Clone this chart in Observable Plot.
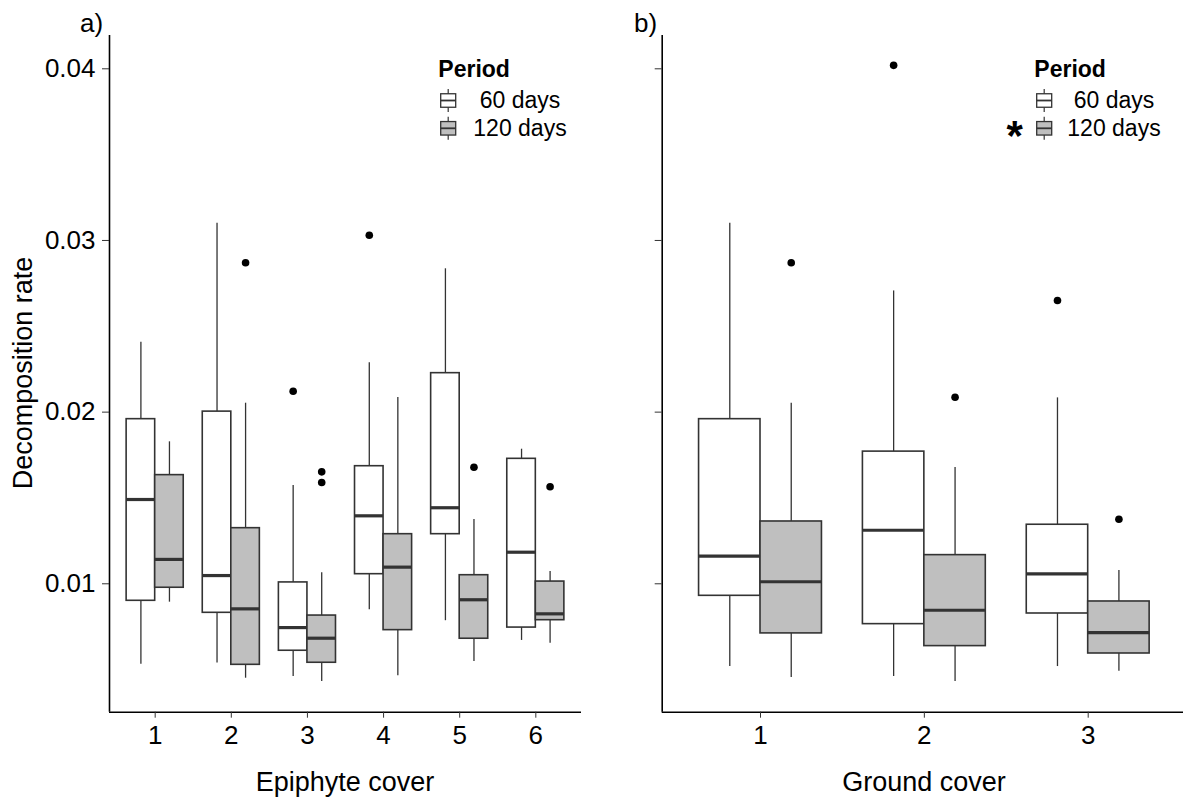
<!DOCTYPE html>
<html>
<head>
<meta charset="utf-8">
<script src="https://cdn.jsdelivr.net/npm/d3@7"></script>
<script src="https://cdn.jsdelivr.net/npm/@observablehq/plot@0.6"></script>
<style>
  html, body { margin: 0; padding: 0; background: #fff; overflow: hidden; }
  #fig { position: relative; width: 1183px; height: 801px; overflow: hidden;
         font-family: "Liberation Sans", Arial, sans-serif; }
  .panel { position: absolute; top: 0; }
  #overlay { position: absolute; left: 0; top: 0; pointer-events: none; }
  #overlay text { font-family: "Liberation Sans", Arial, sans-serif; }
</style>
</head>
<body>
<div id="fig"></div>
<script>
// Decomposition rate by cover class and incubation period.
// Box statistics: [lower whisker, Q1, median, Q3, upper whisker]
const periods = ["60 days", "120 days"];
const yTicks = [0.01, 0.02, 0.03, 0.04];

const epiphyteCover = [1, 2, 3, 4, 5, 6];
const epiphyte60 = [
  [0.00532, 0.00901, 0.01491, 0.01959, 0.02407],
  [0.00538, 0.00831, 0.01048, 0.02003, 0.03100],
  [0.00460, 0.00610, 0.00745, 0.01008, 0.01573],
  [0.00849, 0.01056, 0.01396, 0.01685, 0.02287],
  [0.00785, 0.01289, 0.01443, 0.02227, 0.02835],
  [0.00670, 0.00745, 0.01184, 0.01728, 0.01784]
];
const epiphyte120 = [
  [0.00893, 0.00977, 0.01142, 0.01633, 0.01827],
  [0.00450, 0.00528, 0.00854, 0.01324, 0.02052],
  [0.00431, 0.00540, 0.00683, 0.00815, 0.01064],
  [0.00464, 0.00730, 0.01097, 0.01289, 0.02085],
  [0.00547, 0.00680, 0.00907, 0.01050, 0.01374],
  [0.00654, 0.00788, 0.00825, 0.01013, 0.01072]
];
const epiphyteOut60 = [[], [], [0.02122], [0.03030], [], []];
const epiphyteOut120 = [[], [0.02870], [0.01652, 0.01590], [], [0.01679], [0.01565]];

const groundCover = [1, 2, 3];
const ground60 = [
  [0.00518, 0.00930, 0.01161, 0.01959, 0.03100],
  [0.00460, 0.00765, 0.01312, 0.01770, 0.02706],
  [0.00518, 0.00827, 0.01058, 0.01344, 0.02083]
];
const ground120 = [
  [0.00454, 0.00711, 0.01012, 0.01363, 0.02052],
  [0.00431, 0.00637, 0.00846, 0.01167, 0.01677],
  [0.00491, 0.00594, 0.00716, 0.00897, 0.01077]
];
const groundOut60 = [[], [0.04020], [0.02650]];
const groundOut120 = [[0.02870], [0.02087], [0.01376]];

const yDomain = [0.00252, 0.04194];
const dodge = 0.1875;         // half of the dodged box width (width 0.75 shared by 2 groups)
const boxFill = ["#ffffff", "#bfbfbf"];
const ink = "#333333";

function boxRows(cover, s60, s120) {
  const rows = [];
  cover.forEach((c, i) => {
    [s60[i], s120[i]].forEach((s, p) => {
      rows.push({cover: c, period: periods[p], off: p === 0 ? -dodge : dodge,
                 lo: s[0], q1: s[1], med: s[2], q3: s[3], hi: s[4]});
    });
  });
  return rows;
}
function outlierRows(cover, o60, o120) {
  const rows = [];
  cover.forEach((c, i) => {
    [o60[i], o120[i]].forEach((vals, p) => {
      vals.forEach(v => rows.push({cover: c, period: periods[p], off: p === 0 ? -dodge : dodge, value: v}));
    });
  });
  return rows;
}

function panel({cover, s60, s120, o60, o120, width, marginLeft, marginRight, tickLabels}) {
  const rows = boxRows(cover, s60, s120);
  const outs = outlierRows(cover, o60, o120);
  const xc = d => d.cover + d.off;
  return Plot.plot({
    width, height: 801,
    marginLeft, marginRight, marginTop: 35, marginBottom: 89.3,
    style: {fontFamily: "Liberation Sans, Arial, sans-serif", fontSize: "26px", color: "#000", background: "transparent"},
    x: {type: "linear", domain: [0.4, cover.length + 0.6], axis: null},
    y: {domain: yDomain, axis: null},
    color: {domain: periods, range: boxFill},
    marks: [
      // whiskers
      Plot.ruleX(rows, {x: xc, y1: "q3", y2: "hi", stroke: ink, strokeWidth: 1.3}),
      Plot.ruleX(rows, {x: xc, y1: "lo", y2: "q1", stroke: ink, strokeWidth: 1.3}),
      // boxes
      Plot.rect(rows, {x1: d => xc(d) - dodge, x2: d => xc(d) + dodge, y1: "q1", y2: "q3",
                       fill: "period", stroke: ink, strokeWidth: 1.6}),
      // medians
      Plot.ruleY(rows, {x1: d => xc(d) - dodge, x2: d => xc(d) + dodge, y: "med", stroke: ink, strokeWidth: 3.2}),
      // outliers
      Plot.dot(outs, {x: xc, y: "value", r: 3.8, fill: "#000", stroke: null}),
      // axis lines
      Plot.ruleX([0.4], {stroke: "#000", strokeWidth: 1.6}),
      Plot.ruleY([yDomain[0]], {stroke: "#000", strokeWidth: 1.6}),
      Plot.axisY({ticks: yTicks, tickSize: 7, tickPadding: 7, fontSize: 26, stroke: "#333",
                  tickFormat: tickLabels ? d3.format(".2f") : () => "", label: null}),
      Plot.axisX({ticks: cover, tickSize: 6, tickPadding: 7, fontSize: 26, stroke: "#333",
                  tickFormat: d => String(d), label: null})
    ]
  });
}

const fig = document.getElementById("fig");

const a = panel({cover: epiphyteCover, s60: epiphyte60, s120: epiphyte120,
                 o60: epiphyteOut60, o120: epiphyteOut120,
                 width: 600, marginLeft: 109, marginRight: 19, tickLabels: true});
a.classList.add("panel"); a.style.left = "0px";
fig.appendChild(a);

const b = panel({cover: groundCover, s60: ground60, s120: ground120,
                 o60: groundOut60, o120: groundOut120,
                 width: 600, marginLeft: 61.7, marginRight: 14, tickLabels: false});
b.classList.add("panel"); b.style.left = "600px";
fig.appendChild(b);

// Titles, panel tags and legends
const svg = d3.select(fig).append("svg")
  .attr("id", "overlay").attr("width", 1183).attr("height", 801);

function txt(x, y, s, opts = {}) {
  const t = svg.append("text").attr("x", x).attr("y", y).text(s)
    .attr("font-size", opts.size || 27)
    .attr("font-weight", opts.weight || "normal")
    .attr("text-anchor", opts.anchor || "start")
    .attr("fill", "#000")
    .style("white-space", "pre");
  if (opts.transform) t.attr("transform", opts.transform);
  return t;
}

txt(80, 31.7, "a)", {size: 26});
txt(634, 31.7, "b)", {size: 26});
txt(345, 790.5, "Epiphyte cover", {anchor: "middle"});
txt(924, 790.5, "Ground cover", {anchor: "middle"});
txt(0, 0, "Decomposition rate", {anchor: "middle", transform: "translate(32,373) rotate(-90)"});

function keyGlyph(x, cy, fill) {
  const w = 15, h = 13.5;
  const g = svg.append("g");
  g.append("line").attr("x1", x + w / 2).attr("x2", x + w / 2).attr("y1", cy - 11.5).attr("y2", cy + 11.5)
    .attr("stroke", ink).attr("stroke-width", 1.2);
  g.append("rect").attr("x", x).attr("y", cy - h / 2).attr("width", w).attr("height", h)
    .attr("fill", fill).attr("stroke", ink).attr("stroke-width", 1.3);
  g.append("line").attr("x1", x).attr("x2", x + w).attr("y1", cy).attr("y2", cy)
    .attr("stroke", ink).attr("stroke-width", 1.8);
}

function legend(x, textX, asterisk) {
  txt(x - 2.4, 77.3, "Period", {size: 23, weight: "bold"});
  keyGlyph(x, 100.5, boxFill[0]);
  keyGlyph(x, 128.3, boxFill[1]);
  txt(textX, 107.8, " " + periods[0], {size: 23});
  txt(textX, 135.5, periods[1], {size: 23});
  if (asterisk) txt(asterisk, 150, "*", {size: 42, weight: "bold"});
}
legend(440.7, 473.3, null);
legend(1036.7, 1067.3, 1006.5);
</script>
</body>
</html>
